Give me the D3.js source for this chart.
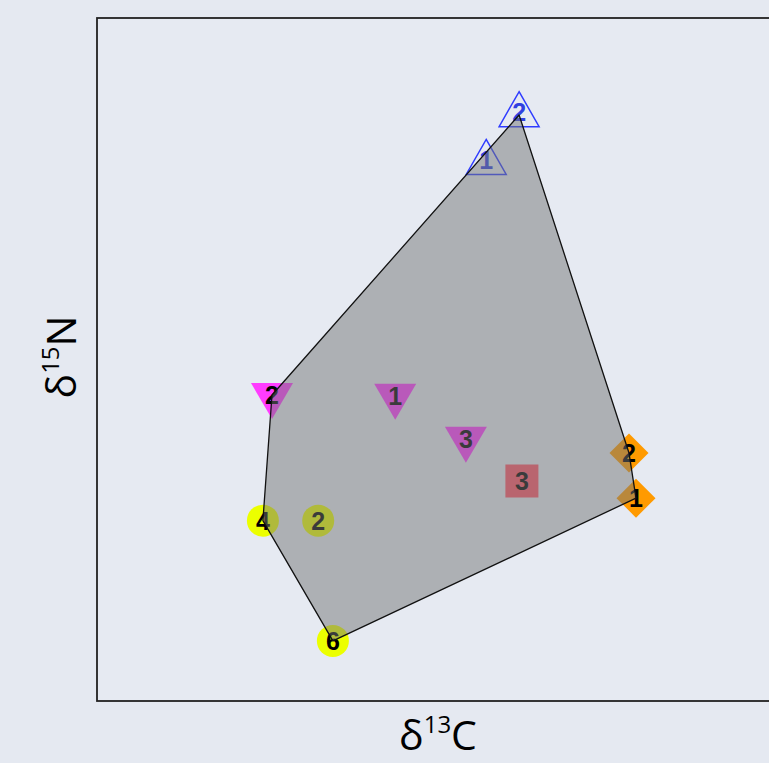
<!DOCTYPE html>
<html>
<head>
<meta charset="utf-8">
<script src="https://cdn.jsdelivr.net/npm/d3@7"></script>
<style>
  html, body { margin: 0; padding: 0; background: #e5e9f1; }
  svg { display: block; }
</style>
</head>
<body>
<svg id="chart" width="769" height="763"></svg>
<script>
// ---- data ----
const groups = ["A", "A", "B", "B", "B", "C", "D", "D", "E", "E", "E"];
const labels = ["1", "2", "2", "1", "3", "3", "2", "1", "4", "2", "6"];
const d13C = [-20.44, -19.97, -23.50, -21.74, -20.73, -19.93, -18.40, -18.30, -23.63, -22.84, -22.63];
const d15N = [11.88, 12.58, 8.48, 8.47, 7.84, 7.22, 7.63, 6.97, 6.64, 6.64, 4.88];

const groupShape = { A: "triangleUp", B: "triangleDown", C: "square", D: "diamond", E: "circle" };
const groupFill = { A: "none", B: "#ff3cff", C: "#ff5468", D: "#ff9a00", E: "#ecff00" };
const groupStroke = { A: "#2f3cff", B: "none", C: "none", D: "none", E: "none" };
const groupLabel = { A: "#3040e0", B: "#000", C: "#000", D: "#000", E: "#000" };

const points = d13C.map((x, i) => ({ x, y: d15N[i], g: groups[i], label: labels[i] }));

// ---- layout ----
const svg = d3.select("#chart");
const W = 769, H = 763;
const panel = { left: 97, top: 18, right: 797, bottom: 701 };

svg.append("rect").attr("width", W).attr("height", H).attr("fill", "#e5e9f1");

const x = d3.scaleLinear().domain([-26, -16]).range([panel.left, panel.right]);
const y = d3.scaleLinear().domain([4, 14]).range([panel.bottom, panel.top]);

// frame
svg.append("rect")
  .attr("x", panel.left).attr("y", panel.top)
  .attr("width", panel.right - panel.left).attr("height", panel.bottom - panel.top)
  .attr("fill", "#e6eaf2").attr("stroke", "#222").attr("stroke-width", 1.8);

const g = svg.append("g");

function shapePath(shape) {
  switch (shape) {
    case "triangleUp": {
      const s = 40, h = 35;
      return `M0,${-h * 2 / 3} L${s / 2},${h / 3} L${-s / 2},${h / 3} Z`;
    }
    case "triangleDown": {
      const s = 42, h = 36;
      return `M${-s / 2},${-h / 3} L${s / 2},${-h / 3} L0,${h * 2 / 3} Z`;
    }
    case "square": {
      const s = 33;
      return `M${-s / 2},${-s / 2} h${s} v${s} h${-s} Z`;
    }
    case "diamond": {
      const r = 19.5;
      return `M0,${-r} L${r},0 L0,${r} L${-r},0 Z`;
    }
    default: {
      const r = 16;
      return `M${r},0 A${r},${r} 0 1,1 ${-r},0 A${r},${r} 0 1,1 ${r},0 Z`;
    }
  }
}

// markers
g.selectAll("path.pt").data(points).join("path")
  .attr("class", "pt")
  .attr("transform", d => `translate(${x(d.x)},${y(d.y)})`)
  .attr("d", d => shapePath(groupShape[d.g]))
  .attr("fill", d => groupFill[d.g])
  .attr("stroke", d => groupStroke[d.g])
  .attr("stroke-width", 1.5);

// labels
g.selectAll("text.lab").data(points).join("text")
  .attr("class", "lab")
  .attr("x", d => x(d.x))
  .attr("y", d => y(d.y) + (d.g === "A" ? -3 : 0))
  .attr("text-anchor", "middle")
  .attr("dominant-baseline", "central")
  .attr("font-family", "Liberation Sans, Arial, sans-serif")
  .attr("font-weight", "bold")
  .attr("font-size", 25)
  .attr("fill", d => groupLabel[d.g])
  .text(d => d.label);

// convex hull
const hull = d3.polygonHull(points.map(d => [x(d.x), y(d.y)]));
g.append("path")
  .attr("d", "M" + hull.map(p => p.join(",")).join("L") + "Z")
  .attr("fill", "#747676")
  .attr("fill-opacity", 0.5)
  .attr("stroke", "#111")
  .attr("stroke-width", 1.3)
  .attr("stroke-linejoin", "round");

// axis titles
const titleFont = "Open Sans, DejaVu Sans, sans-serif";
const xt = svg.append("text")
  .attr("x", 438).attr("y", 750)
  .attr("text-anchor", "middle")
  .attr("font-family", titleFont).attr("font-size", 41).attr("fill", "#000");
xt.append("tspan").text("δ");
xt.append("tspan").attr("font-size", 24).attr("dy", -17).text("13");
xt.append("tspan").attr("dy", 17).text("C");

const yt = svg.append("text")
  .attr("transform", "translate(76,357) rotate(-90)")
  .attr("text-anchor", "middle")
  .attr("font-family", titleFont).attr("font-size", 41).attr("fill", "#000");
yt.append("tspan").text("δ");
yt.append("tspan").attr("font-size", 24).attr("dy", -17).text("15");
yt.append("tspan").attr("dy", 17).text("N");
</script>
</body>
</html>
